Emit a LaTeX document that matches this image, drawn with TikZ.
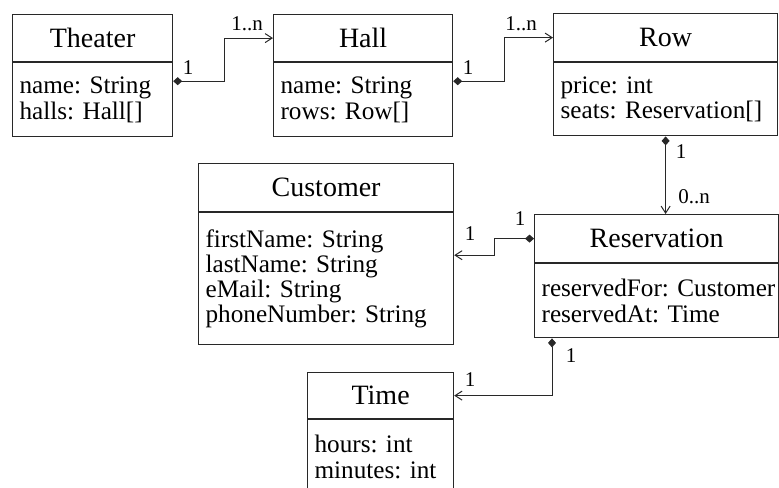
\documentclass[tikz,border=0pt]{standalone}
\usepackage{fontspec}
\setmainfont{Liberation Serif}
\usepackage{xcolor}
\definecolor{LineGray}{RGB}{40,40,40}
\usetikzlibrary{positioning,arrows.meta}
\newcommand{\ctitle}{\fontsize{14}{16}\selectfont}
\newcommand{\cattr}{\fontsize{12.6}{12.65}\selectfont\frenchspacing\hyphenpenalty=10000\relax}
\newcommand{\cmult}{\fontsize{10.5}{12}\selectfont}

\begin{document}
\begin{tikzpicture}[x=0.5pt, y=-0.5pt,
    cname/.style={rectangle, draw=LineGray, line width=0.6pt, inner sep=0pt,
                  minimum height=23.5pt, font=\ctitle},
    attrs/.style={rectangle, draw=LineGray, line width=0.6pt, inner xsep=3.5pt,
                  inner ysep=0pt, minimum height=37pt, align=left, font=\cattr},
    mult/.style={inner sep=0pt, font=\cmult},
    comp/.style={{Diamond[length=4.5pt,width=4pt]}-{Straight Barb[length=3.5pt,width=4.5pt]},
                 draw=LineGray, line width=0.5pt}
]
    \useasboundingbox (0,0) rectangle (779,487);

    % classes
    \node[cname, minimum width=80pt, anchor=north west] (theater) at (12,14) {Theater};
    \node[attrs, below=0pt of theater, minimum width=80pt, text width=73pt] (theaterA) {name: String\\halls: Hall[]};

    \node[cname, minimum width=89.5pt, anchor=north west] (hall) at (273,14) {Hall};
    \node[attrs, below=0pt of hall, minimum width=89.5pt, text width=82.5pt] (hallA) {name: String\\rows: Row[]};

    \node[cname, minimum width=112pt, minimum height=24pt, anchor=north west] (row) at (553,13) {Row};
    \node[attrs, below=0pt of row, minimum width=112pt, text width=105pt, minimum height=36.5pt] (rowA) {price: int\\seats: Reservation[]};

    \node[cname, minimum width=127.5pt, minimum height=24pt, anchor=north west] (cust) at (198,163) {Customer};
    \node[attrs, below=0pt of cust, minimum width=127.5pt, text width=120.5pt, minimum height=66pt] (custA)
        {firstName: String\\lastName: String\\eMail: String\\phoneNumber: String};

    \node[cname, minimum width=122pt, minimum height=24pt, anchor=north west] (res) at (534,214) {Reservation};
    \node[attrs, below=0pt of res, minimum width=122pt, text width=115pt] (resA) {reservedFor:~Customer\\reservedAt: Time};

    \node[cname, minimum width=73pt, minimum height=23pt, anchor=north west] (time) at (307,372) {Time};
    \node[attrs, below=0pt of time, minimum width=73pt, text width=66pt] (timeA) {hours: int\\minutes: int};

    % compositions
    \draw[comp] ([yshift=-9.5pt]theaterA.north east) -- ++(51,0) |- (hall.west);
    \draw[comp] ([yshift=-9.5pt]hallA.north east) -- ++(51,0) |- (row.west);
    \draw[comp] (rowA.south) -- (rowA.south |- res.north);
    \draw[comp] (res.west) -- ++(-40,0) |- ([yshift=-21.5pt]custA.north east);
    \draw[comp] ([xshift=9pt]resA.south west) |- (time.east);

    % multiplicities
    \node[mult] (mTheater) at (188,68) {1};
    \node[mult] (mHallIn) at (247,24) {1..n};
    \node[mult] (mHall) at (468,68) {1};
    \node[mult] (mRowIn) at (521,24) {1..n};
    \node[mult] (mRow) at (681,152) {1};
    \node[mult] (mResIn) at (694,197) {0..n};
    \node[mult] (mResCust) at (520,219) {1};
    \node[mult] (mCust) at (470,234) {1};
    \node[mult] (mResTime) at (571,356) {1};
    \node[mult] (mTime) at (470,380) {1};
\end{tikzpicture}
\end{document}
